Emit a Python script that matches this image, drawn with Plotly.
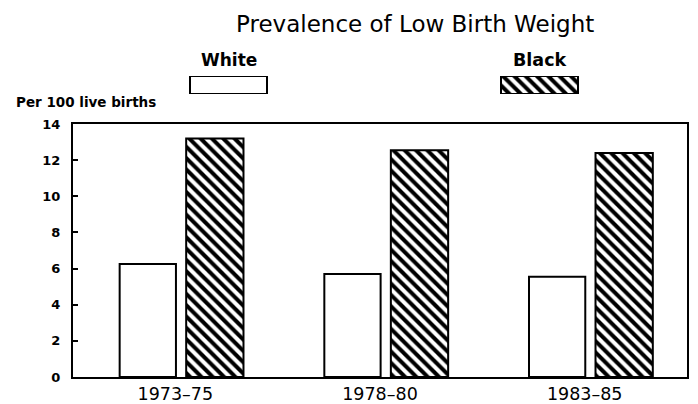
import plotly.graph_objects as go

categories = ["1973\u201375", "1978\u201380", "1983\u201385"]
white_values = [6.25, 5.7, 5.55]
black_values = [13.2, 12.55, 12.4]
y_ticks = [0, 2, 4, 6, 8, 10, 12, 14]
series_names = ["White", "Black"]

# page body adds an 8px margin, so the figure is drawn 8px in from the corner
OFF = 8
W, H = 698 - OFF, 404 - OFF
ML, MR, MT, MB = 73 - OFF, 11, 50 - OFF, 27
plot_h = H - MT - MB
plot_w = W - ML - MR

def py(pix):  # screen pixel y -> paper y
    return (H - MB - (pix - OFF)) / plot_h

def px(pix):  # screen pixel x -> paper x
    return ((pix - OFF) - ML) / plot_w

font_main = "DejaVu Sans"
hatch = dict(shape="\\", size=8, solidity=0.5, fgcolor="black",
             bgcolor="white", fgopacity=1)

fig = go.Figure()
fig.add_trace(go.Bar(
    x=categories, y=white_values, name=series_names[0],
    marker=dict(color="white", line=dict(color="black", width=2)),
    width=0.275, offset=-0.272, showlegend=False,
))
fig.add_trace(go.Bar(
    x=categories, y=black_values, name=series_names[1],
    marker=dict(color="white", line=dict(color="black", width=2),
                pattern=hatch),
    width=0.28, offset=0.053, showlegend=False,
))

# custom legend boxes (drawn on an auxiliary axis placed above the plot)
legend_boxes = [(190, 267), (501, 578)]
for i, (x0, x1) in enumerate(legend_boxes):
    kw = dict(fillcolor="white")
    if i == 1:
        kw["fillpattern"] = hatch
    fig.add_trace(go.Scatter(
        x=[x0, x1, x1, x0, x0], y=[0, 0, 1, 1, 0],
        mode="lines", fill="toself", line=dict(color="black", width=2),
        xaxis="x2", yaxis="y2", showlegend=False, hoverinfo="skip",
        cliponaxis=False, **kw,
    ))

fig.update_layout(
    width=W, height=H,
    margin=dict(l=ML, r=MR, t=MT, b=MB, autoexpand=False),
    paper_bgcolor="white", plot_bgcolor="white",
    barmode="overlay",
    font=dict(family=font_main, color="black"),
    xaxis=dict(
        type="category", range=[-0.5, 2.5], showgrid=False,
        showline=True, linecolor="black", linewidth=2, mirror=True,
        ticks="", tickfont=dict(size=17.5, family=font_main),
        anchor="y", automargin=False,
    ),
    yaxis=dict(
        domain=[0, py(124)], range=[0, 14], tickvals=y_ticks,
        showgrid=False, zeroline=False,
        showline=True, linecolor="black", linewidth=2, mirror=True,
        ticks="inside", ticklen=5, tickwidth=2, tickcolor="black",
        tickfont=dict(size=13, family="DejaVu Sans", weight="bold"),
        ticklabelstandoff=8, automargin=False,
    ),
    xaxis2=dict(domain=[0, 1], range=[73, 687], visible=False,
                anchor="y2", fixedrange=True, automargin=False),
    yaxis2=dict(domain=[py(94), py(76)], range=[0, 1], visible=False,
                anchor="x2", fixedrange=True, automargin=False),
    annotations=[
        dict(text="Prevalence of Low Birth Weight", xref="paper", yref="paper",
             x=px(415), y=py(24), xanchor="center", yanchor="middle",
             showarrow=False, borderpad=0,
             font=dict(size=23, family=font_main)),
        dict(text="White", xref="paper", yref="paper",
             x=px(228.5), y=py(60), xanchor="center", yanchor="middle",
             showarrow=False, font=dict(size=17, family=font_main, weight="bold")),
        dict(text="Black", xref="paper", yref="paper",
             x=px(539.5), y=py(60), xanchor="center", yanchor="middle",
             showarrow=False, font=dict(size=17.5, family=font_main, weight="bold")),
        dict(text="Per 100 live births", xref="paper", yref="paper",
             x=px(14), y=py(102), xanchor="left", yanchor="middle",
             showarrow=False, font=dict(size=13.5, family=font_main, weight="bold")),
    ],
)

fig.write_html("out.html")
